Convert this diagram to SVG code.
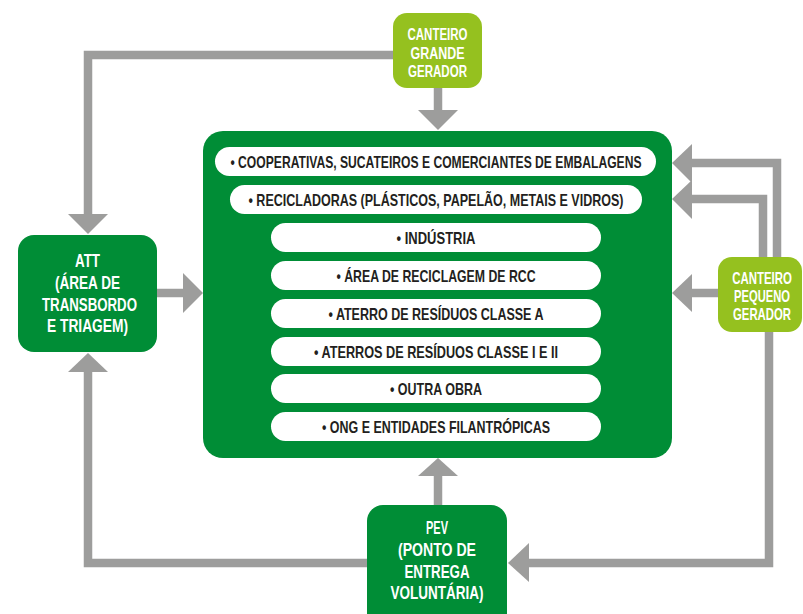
<svg xmlns="http://www.w3.org/2000/svg" width="803" height="614" viewBox="0 0 803 614">
<defs>
<style>
.dk{fill:#008d36}
.lt{fill:#95c11f}
.pill{fill:#ffffff}
.ln{fill:none;stroke:#9d9d9c;stroke-width:8.5;stroke-linejoin:miter}
.hd{fill:#9d9d9c}
text{font-family:"Liberation Sans","Arial",sans-serif;font-weight:bold;text-anchor:middle}
.wt{fill:#ffffff;font-size:18.5px}
.ws{fill:#ffffff;font-size:16px}
.pt{fill:#231f20;font-size:16.5px}
</style>
</defs>
<rect width="803" height="614" fill="#ffffff"/>
<g id="connectors">
<path class="ln" d="M393,55 H88 V214"/><polygon class="hd" points="68,214 108,214 88,234"/>
<path class="ln" d="M438,88 V110"/><polygon class="hd" points="418,110 458,110 438,130"/>
<path class="ln" d="M157,293 H183"/><polygon class="hd" points="183,273 183,313 203,293"/>
<path class="ln" d="M777,257 V163 H692"/><polygon class="hd" points="692,144 692,183 672,163"/>
<path class="ln" d="M763,257 V199 H692"/><polygon class="hd" points="692,180 692,219 672,199"/>
<path class="ln" d="M718,293 H692"/><polygon class="hd" points="692,274 692,312 672,293"/>
<path class="ln" d="M769,332 V563 H529"/><polygon class="hd" points="529,543 529,582 508,563"/>
<path class="ln" d="M367,563 H88 V372"/><polygon class="hd" points="68,372 108,372 88,353"/>
<path class="ln" d="M438,505 V476"/><polygon class="hd" points="418,476 458,476 438,458"/>
</g>
<g id="destinos">
<rect class="dk" x="203" y="131" width="469" height="327" rx="20"/>
<rect class="pill" x="215" y="147" width="441" height="29" rx="14.5"/>
<text class="pt" x="436" y="168" textLength="411" lengthAdjust="spacingAndGlyphs">• COOPERATIVAS, SUCATEIROS E COMERCIANTES DE EMBALAGENS</text>
<rect class="pill" x="230" y="185" width="412" height="29" rx="14.5"/>
<text class="pt" x="436" y="206" textLength="375" lengthAdjust="spacingAndGlyphs">• RECICLADORAS (PLÁSTICOS, PAPELÃO, METAIS E VIDROS)</text>
<rect class="pill" x="271" y="223" width="330" height="29" rx="14.5"/>
<text class="pt" x="436" y="244" textLength="79" lengthAdjust="spacingAndGlyphs">• INDÚSTRIA</text>
<rect class="pill" x="271" y="261" width="330" height="29" rx="14.5"/>
<text class="pt" x="436" y="282" textLength="199" lengthAdjust="spacingAndGlyphs">• ÁREA DE RECICLAGEM DE RCC</text>
<rect class="pill" x="271" y="299" width="330" height="29" rx="14.5"/>
<text class="pt" x="436" y="320" textLength="215" lengthAdjust="spacingAndGlyphs">• ATERRO DE RESÍDUOS CLASSE A</text>
<rect class="pill" x="271" y="337" width="330" height="29" rx="14.5"/>
<text class="pt" x="436" y="358" textLength="244" lengthAdjust="spacingAndGlyphs">• ATERROS DE RESÍDUOS CLASSE I E II</text>
<rect class="pill" x="271" y="374" width="330" height="29" rx="14.5"/>
<text class="pt" x="436" y="395" textLength="92" lengthAdjust="spacingAndGlyphs">• OUTRA OBRA</text>
<rect class="pill" x="271" y="412" width="330" height="29" rx="14.5"/>
<text class="pt" x="436" y="433" textLength="228" lengthAdjust="spacingAndGlyphs">• ONG E ENTIDADES FILANTRÓPICAS</text>
</g>
<g id="canteiro-grande">
<rect class="lt" x="393" y="13" width="89" height="75" rx="14"/>
<text class="ws" x="437.5" y="40" textLength="60" lengthAdjust="spacingAndGlyphs">CANTEIRO</text>
<text class="ws" x="437.5" y="59" textLength="54" lengthAdjust="spacingAndGlyphs">GRANDE</text>
<text class="ws" x="437.5" y="77" textLength="59" lengthAdjust="spacingAndGlyphs">GERADOR</text>
</g>
<g id="canteiro-pequeno">
<rect class="lt" x="718" y="257" width="84" height="75" rx="14"/>
<text class="ws" transform="translate(762,284) scale(0.715,1)">CANTEIRO</text>
<text class="ws" transform="translate(762,302) scale(0.7,1)">PEQUENO</text>
<text class="ws" transform="translate(762,320) scale(0.71,1)">GERADOR</text>
</g>
<g id="att">
<rect class="dk" x="18" y="235" width="139" height="117" rx="16"/>
<text class="wt" x="87.5" y="267" textLength="25" lengthAdjust="spacingAndGlyphs">ATT</text>
<text class="wt" x="87.5" y="288.5" textLength="65" lengthAdjust="spacingAndGlyphs">(ÁREA DE</text>
<text class="wt" x="89.5" y="310.5" textLength="95" lengthAdjust="spacingAndGlyphs">TRANSBORDO</text>
<text class="wt" x="87.5" y="332" textLength="81" lengthAdjust="spacingAndGlyphs">E TRIAGEM)</text>
</g>
<g id="pev">
<rect class="dk" x="367" y="505" width="140" height="125" rx="16"/>
<text class="wt" x="437" y="534" textLength="22" lengthAdjust="spacingAndGlyphs">PEV</text>
<text class="wt" x="437" y="556" textLength="78" lengthAdjust="spacingAndGlyphs">(PONTO DE</text>
<text class="wt" x="437" y="578" textLength="65" lengthAdjust="spacingAndGlyphs">ENTREGA</text>
<text class="wt" x="437" y="599" textLength="93" lengthAdjust="spacingAndGlyphs">VOLUNTÁRIA)</text>
</g>
</svg>
